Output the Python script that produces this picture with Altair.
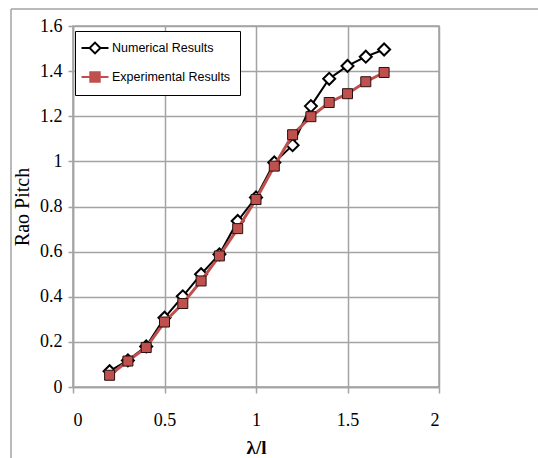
import altair as alt
import pandas as pd

x_vals = [0.2, 0.3, 0.4, 0.5, 0.6, 0.7, 0.8, 0.9, 1.0, 1.1, 1.2, 1.3, 1.4, 1.5, 1.6, 1.7]
numerical = [0.07, 0.118, 0.18, 0.307, 0.402, 0.50, 0.588, 0.736, 0.84, 0.995, 1.072, 1.245, 1.366, 1.423, 1.464, 1.496]
experimental = [0.052, 0.115, 0.175, 0.288, 0.37, 0.47, 0.581, 0.702, 0.831, 0.979, 1.118, 1.198, 1.261, 1.30, 1.353, 1.394]
series_names = ["Numerical Results", "Experimental Results"]
x_ticks = [0, 0.5, 1, 1.5, 2]
y_ticks = [0, 0.2, 0.4, 0.6, 0.8, 1.0, 1.2, 1.4, 1.6]

RED = "#c0504d"
GRID = "#a3a3a3"

df = pd.DataFrame(
    {"x": x_vals * 2,
     "y": numerical + experimental,
     "series": [series_names[0]] * len(x_vals) + [series_names[1]] * len(x_vals)}
)

xenc = alt.X("x:Q", scale=alt.Scale(domain=[0, 2], nice=False),
             axis=alt.Axis(values=x_ticks, format="~g", title="λ/l", grid=True,
                           tickSize=6, labelPadding=18, titlePadding=9,
                           titleFontWeight="bold", titleFontSize=19))
yenc = alt.Y("y:Q", scale=alt.Scale(domain=[0, 1.6], nice=False),
             axis=alt.Axis(values=y_ticks, format="~g", title="Rao Pitch", grid=True,
                           tickSize=5, labelPadding=6, titlePadding=7,
                           titleFontWeight="normal", titleFontSize=20))

base = alt.Chart(df)
num_df = base.transform_filter(alt.datum.series == series_names[0])
exp_df = base.transform_filter(alt.datum.series == series_names[1])

num_line = num_df.mark_line(color="black", strokeWidth=2).encode(x=xenc, y=yenc)
num_pts = num_df.mark_point(shape="diamond", filled=True, fill="white", stroke="black",
                            strokeWidth=2, size=144, opacity=1).encode(x=xenc, y=yenc)
exp_line = exp_df.mark_line(color=RED, strokeWidth=3).encode(x=xenc, y=yenc)
exp_pts = exp_df.mark_point(shape="square", filled=True, fill=RED, stroke="#2a1010",
                            strokeWidth=1, size=100, opacity=1).encode(x=xenc, y=yenc)

path_num = "M-2,0H-0.8M0.8,0H2M0,-0.8L0.8,0L0,0.8L-0.8,0Z"
path_exp = "M-2,0H-0.7M0.7,0H2M-0.7,-0.7H0.7V0.7H-0.7Z"

leg = alt.Legend(title=None, orient="none", legendX=2, legendY=5)
legend_layer = base.transform_filter("datum.x < 0").mark_point(
    size=182, strokeWidth=2, opacity=1, filled=False
).encode(
    x=xenc, y=yenc,
    shape=alt.Shape("series:N", scale=alt.Scale(domain=series_names, range=[path_num, path_exp]), legend=leg),
    stroke=alt.Stroke("series:N", scale=alt.Scale(domain=series_names, range=["black", RED]), legend=leg),
    fill=alt.Fill("series:N", scale=alt.Scale(domain=series_names, range=["white", RED]), legend=leg),
)

frame_left = alt.Chart(pd.DataFrame({"a": [0]})).mark_rule(color=GRID, strokeWidth=1.5).encode(
    x=alt.value(-62), y=alt.value(-17), y2=alt.value(440))
frame_top = alt.Chart(pd.DataFrame({"a": [0]})).mark_rule(color=GRID, strokeWidth=1.5).encode(
    x=alt.value(-62), x2=alt.value(470), y=alt.value(-17))

chart = alt.layer(frame_left, frame_top, num_line, num_pts, exp_line, exp_pts, legend_layer).properties(
    width=366, height=361,
    autosize="none",
    padding={"left": 73, "top": 26, "right": 99, "bottom": 71},
    background="white",
).configure_view(
    stroke=GRID, strokeWidth=1.5
).configure_axis(
    gridColor=GRID, gridWidth=1.5, domainColor=GRID, domainWidth=1.5,
    tickColor=GRID, tickWidth=1.5,
    labelFont="Liberation Serif", labelFontSize=18, labelColor="black",
    titleFont="Liberation Serif", titleColor="black",
).configure_legend(
    strokeColor="black", fillColor="white", padding=9, cornerRadius=0,
    labelFont="Liberation Sans", labelFontSize=12.5, labelColor="black",
    symbolStrokeWidth=2, symbolSize=182, rowPadding=10, labelOffset=9, symbolOffset=3,
)

chart.save("out.html", embed_options={"renderer": "svg", "actions": False})
